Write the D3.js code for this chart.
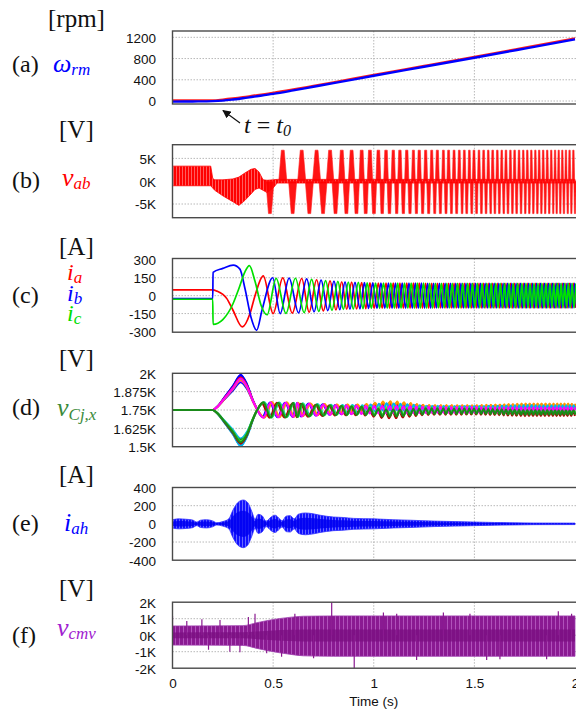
<!DOCTYPE html>
<html><head><meta charset="utf-8">
<script src="https://cdn.jsdelivr.net/npm/d3@7"></script>
<style>body{margin:0;background:#fff} svg{display:block}</style>
</head><body>
<svg id="chart" width="576" height="712"></svg>
<script>
// ================= DATA =================
const xTicks = [0, 0.5, 1, 1.5, 2];
const xTickLabels = ["0", "0.5", "1", "1.5", "2"];

// (a) rotor speed [rpm]
const speedT    = [0, 0.1, 0.2, 0.25, 0.3, 0.35, 0.4, 0.5, 0.6, 0.7, 0.8, 1.0, 1.25, 1.5, 1.75, 2.0];
const speedMeas = [-12, -8, -2, 8, 28, 52, 80, 135, 200, 268, 336, 476, 645, 815, 988, 1162];
const speedRef  = [0, 0, 0, 14, 34, 58, 86, 140, 203, 270, 338, 478, 647, 817, 990, 1164];
const speedTicks = [0, 400, 800, 1200];
const speedTickLabels = ["0", "400", "800", "1200"];

// (b) line voltage v_ab [V]
const vabBandT   = [0, 0.005, 0.19, 0.2, 0.21, 0.25, 0.3, 0.33, 0.36, 0.39, 0.41, 0.43, 0.45, 0.47, 0.5, 0.52, 2.0];
const vabBandTop = [3300, 3300, 3300, 600, 300, 300, 500, 900, 1800, 2600, 2800, 2000, 300, 200, 300, 400, 400];
const vabBandBot = [-800, -1000, -1000, -1500, -2000, -3200, -4500, -5300, -4200, -2800, -1800, -1500, -2000, -2500, -1500, -400, -400];
const vabPosT = [0.548, 0.642, 0.716, 0.783, 0.841, 0.890, 0.940, 0.981, 1.023, 1.061, 1.097, 1.130, 1.164, 1.197, 1.226, 1.258, 1.288, 1.316, 1.346, 1.372, 1.399, 1.425, 1.450, 1.475, 1.498, 1.523, 1.546, 1.569, 1.591, 1.614, 1.636, 1.657, 1.679, 1.700, 1.722, 1.743, 1.763, 1.783, 1.803, 1.822, 1.842, 1.862, 1.882, 1.901, 1.919, 1.937, 1.955, 1.973, 1.992];
const vabNegT = [0.484, 0.597, 0.680, 0.748, 0.810, 0.864, 0.914, 0.960, 1.001, 1.042, 1.078, 1.114, 1.147, 1.180, 1.212, 1.243, 1.273, 1.303, 1.331, 1.359, 1.386, 1.412, 1.439, 1.462, 1.487, 1.511, 1.535, 1.558, 1.581, 1.602, 1.624, 1.646, 1.667, 1.689, 1.710, 1.732, 1.753, 1.773, 1.793, 1.813, 1.833, 1.852, 1.872, 1.892, 1.909, 1.927, 1.945, 1.964, 1.982, 2.0];
const vabPosPeak = 6800;
const vabNegPeak = -7100;
const vabTicks = [-5000, 0, 5000];
const vabTickLabels = ["-5K", "0K", "5K"];

// (c) phase currents [A]
const iaStart = [[0, 48], [0.2, 48], [0.22, 38], [0.27, -25], [0.30, -120], [0.347, -262], [0.385, -150], [0.41, 0], [0.451, 165], [0.50, -150]];
const ibStart = [[0, -24], [0.2, -24], [0.2015, 195], [0.25, 228], [0.302, 256], [0.335, 222], [0.36, 60], [0.39, -180], [0.418, -290], [0.445, -120], [0.498, 150], [0.535, -150]];
const icStart = [[0, -30], [0.2, -30], [0.2015, -240], [0.25, -200], [0.30, -70], [0.33, 60], [0.36, 200], [0.382, 252], [0.41, 120], [0.44, -80], [0.47, -160], [0.515, 145]];
const curAmpT = [0.54, 0.65, 0.75, 0.85, 1.0, 1.5, 2.0];
const curAmp  = [150, 143, 128, 115, 106, 102, 102];
const curTicks = [-300, -150, 0, 150, 300];
const curTickLabels = ["-300", "-150", "0", "150", "300"];

// (d) capacitor voltages [V]
const capTransT = [0, 0.2, 0.22, 0.26, 0.30, 0.339, 0.37, 0.40, 0.42];
const capUpper  = [1750, 1750, 1768, 1832, 1898, 1965, 1910, 1810, 1755];
const capLower  = [1750, 1750, 1732, 1668, 1600, 1530, 1585, 1690, 1748];
const capEarlyPeakT = [0.451, 0.525, 0.600];
const capOscT   = [0.42, 0.45, 0.6, 0.7, 0.8, 1.0, 1.3, 1.6, 2.0];
const capOscAmp = [0, 52, 48, 40, 32, 25, 20, 17, 15];
const capSpreadT = [0.42, 0.8, 0.95, 1.05, 1.12, 1.25, 1.5, 1.65, 1.75, 2.0];
const capSpread  = [0, 5, 10, 35, 35, 14, 14, 22, 28, 28];
const capTicks = [1500, 1625, 1750, 1875, 2000];
const capTickLabels = ["1.5K", "1.625K", "1.75K", "1.875K", "2K"];

// (e) circulating current envelope [A]
const iahT   = [0, 0.03, 0.07, 0.1, 0.12, 0.14, 0.17, 0.2, 0.22, 0.25, 0.28, 0.3, 0.325, 0.352, 0.375, 0.395, 0.41, 0.425, 0.445, 0.465, 0.49, 0.51, 0.53, 0.545, 0.565, 0.585, 0.605, 0.625, 0.66, 0.7, 0.733, 0.8, 0.849, 0.9, 1.0, 1.1, 1.18, 1.3, 1.4, 1.495, 1.6, 1.7, 1.793, 2.0];
const iahAmp = [45, 55, 50, 42, 20, 40, 45, 32, 12, 25, 55, 150, 235, 262, 230, 130, 50, 105, 90, 30, 75, 95, 60, 35, 85, 90, 55, 105, 120, 110, 95, 75, 70, 60, 55, 45, 40, 30, 25, 20, 15, 12, 9, 8];
const iahTicks = [-400, -200, 0, 200, 400];
const iahTickLabels = ["-400", "-200", "0", "200", "400"];

// (f) common-mode voltage [V]
const cmvT   = [0, 0.35, 0.42, 0.5, 0.58, 0.65, 0.8, 2.0];
const cmvTop = [560, 580, 760, 950, 1080, 1150, 1170, 1170];
const cmvBot = [-600, -620, -800, -1000, -1150, -1250, -1280, -1280];
const cmvSpikeT = [0, 0.071, 0.146, 0.179, 0.236, 0.285, 0.335, 0.377, 0.41, 0.468, 0.542, 0.608, 0.701, 0.791, 0.903, 1.048, 1.114, 1.213, 1.346, 1.478, 1.561, 1.627, 1.859, 1.917, 1.983];
const cmvSpikeV = [1170, 860, 960, -880, 920, -1000, -1030, 1100, 1300, -1100, -1300, 1300, -1400, 2000, -2050, 1370, 1300, -1500, 1370, 1300, -1500, -1450, -1450, 1450, 1300];
const cmvTicks = [-2000, -1000, 0, 1000, 2000];
const cmvTickLabels = ["-2K", "-1K", "0K", "1K", "2K"];

// ================= DRAW =================
const svg = d3.select("#chart");
const SANS = "'Liberation Sans', Arial, sans-serif";
const SERIF = "'Liberation Serif', 'Times New Roman', serif";
const x = d3.scaleLinear().domain([0, 2]).range([172.5, 575]);
const X0 = 172.5, XR = 580;

const defs = svg.append("defs");
// texture patterns for dense switching waveforms
function stripes(id, base, stripe, w, sw, op) {
  const p = defs.append("pattern").attr("id", id).attr("patternUnits", "userSpaceOnUse").attr("width", w).attr("height", 8);
  p.append("rect").attr("width", w).attr("height", 8).attr("fill", base);
  p.append("rect").attr("x", w - sw).attr("width", sw).attr("height", 8).attr("fill", stripe).attr("opacity", op);
}
stripes("texB", "#ff0000", "#ffffff", 3, 0.8, 0.45);
stripes("texE", "#1010ff", "#7070ff", 3, 1, 0.9);
stripes("texF", "#8a1a92", "#b458c0", 4, 1, 0.9);

const panelDefs = [
  {id: "a", top: 31, bottom: 104, domain: [-56, 1319], ticks: speedTicks, labels: speedTickLabels},
  {id: "b", top: 144.7, bottom: 217.7, domain: [-8000, 8000], ticks: vabTicks, labels: vabTickLabels},
  {id: "c", top: 258.5, bottom: 332.2, domain: [-306, 311], ticks: curTicks, labels: curTickLabels},
  {id: "d", top: 373.3, bottom: 446.7, domain: [1500, 2000], ticks: capTicks, labels: capTickLabels},
  {id: "e", top: 487.5, bottom: 560.2, domain: [-400, 400], ticks: iahTicks, labels: iahTickLabels},
  {id: "f", top: 602.2, bottom: 668.2, domain: [-2000, 2000], ticks: cmvTicks, labels: cmvTickLabels}
];
const P = {};
panelDefs.forEach(pd => {
  const y = d3.scaleLinear().domain(pd.domain).range([pd.bottom, pd.top]);
  defs.append("clipPath").attr("id", "clip-" + pd.id)
    .append("rect").attr("x", X0).attr("y", pd.top).attr("width", XR - X0).attr("height", pd.bottom - pd.top);
  const g = svg.append("g");
  const grid = g.append("g").attr("stroke", "#b8b8b8").attr("stroke-width", 1).attr("stroke-dasharray", "1.5,1.5");
  xTicks.filter(t => t > 0 && t < 2).forEach(t => {
    grid.append("line").attr("x1", x(t)).attr("x2", x(t)).attr("y1", pd.top).attr("y2", pd.bottom);
  });
  pd.ticks.forEach(v => {
    const yy = y(v);
    if (yy > pd.top + 2 && yy < pd.bottom - 1) grid.append("line").attr("x1", X0).attr("x2", XR).attr("y1", yy).attr("y2", yy);
  });
  const yAxis = d3.axisLeft(y).tickValues(pd.ticks).tickFormat((d, i) => pd.labels[i]).tickSize(0).tickPadding(0);
  const ax = g.append("g").attr("transform", `translate(156,0)`).call(yAxis);
  ax.select(".domain").remove();
  ax.selectAll("text").attr("font-family", SANS).attr("font-size", "13.5px").attr("fill", "#111").attr("dy", "0.36em");
  const plot = g.append("g").attr("clip-path", `url(#clip-${pd.id})`);
  svg.append("rect").attr("x", X0).attr("y", pd.top).attr("width", XR + 10 - X0).attr("height", pd.bottom - pd.top)
    .attr("fill", "none").attr("stroke", "#4a4a4a").attr("stroke-width", 1.4);
  P[pd.id] = {y, plot};
});

const interp = (ts, vs) => d3.scaleLinear().domain(ts).range(vs).clamp(true);

// ---- (a) ----
{
  const {y, plot} = P.a;
  const ln = d3.line().x(d => x(d[0])).y(d => y(d[1])).curve(d3.curveMonotoneX);
  plot.append("path").attr("d", ln(speedT.map((t, i) => [t, speedRef[i]])))
    .attr("fill", "none").attr("stroke", "#ff2020").attr("stroke-width", 2.2).attr("transform", "translate(0,-0.8)");
  plot.append("path").attr("d", ln(speedT.map((t, i) => [t, speedMeas[i]])))
    .attr("fill", "none").attr("stroke", "#0000ff").attr("stroke-width", 2.4);
}

// ---- (b) ----
{
  const {y, plot} = P.b;
  const area = d3.area().x(d => x(d[0])).y0(d => y(d[2])).y1(d => y(d[1]));
  plot.append("path").attr("d", area(vabBandT.map((t, i) => [t, vabBandTop[i], vabBandBot[i]])))
    .attr("fill", "url(#texB)").attr("stroke", "#ff0000").attr("stroke-width", 0.8);
  const poly = d3.line().x(d => x(d[0])).y(d => y(d[1]));
  const drawPulses = (times, peak) => {
    times.forEach((T, k) => {
      const Pd = k < times.length - 1 ? times[k + 1] - T : T - times[k - 1];
      const hb = Math.min(0.32 * Pd, 0.02), ht = Math.min(0.17 * Pd, 0.007);
      plot.append("path").attr("d", poly([[T - hb, 0], [T - ht, peak], [T + ht, peak], [T + hb, 0]]) + "Z")
        .attr("fill", "#ff0000").attr("stroke", "#ff1a1a").attr("stroke-width", 0.6).attr("fill-opacity", 0.92);
    });
  };
  drawPulses(vabPosT, vabPosPeak);
  drawPulses(vabNegT, vabNegPeak);
}

// ---- (c) ----
{
  const {y, plot} = P.c;
  const amp = interp(curAmpT, curAmp);
  const build = (start, pk, tr) => {
    const pts = start.slice();
    const last = start[start.length - 1][0];
    const n = vabPosT.length;
    vabPosT.forEach((T, k) => {
      const Pd = k < n - 1 ? vabPosT[k + 1] - T : T - vabPosT[k - 1];
      const tp = T + pk * Pd, tt = T + tr * Pd;
      if (tp > last) pts.push([tp, amp(tp)]);
      if (tt > last) pts.push([tt, -amp(tt)]);
    });
    pts.sort((a, b) => a[0] - b[0]);
    return pts;
  };
  const ln = d3.line().x(d => x(d[0])).y(d => y(d[1])).curve(d3.curveMonotoneX);
  const traces = [
    {pts: build(iaStart, 0, 0.5), c: "#ff0000"},
    {pts: build(ibStart, 1 / 3, 5 / 6), c: "#0000ff"},
    {pts: build(icStart, 2 / 3, 1 / 6), c: "#00e000"}
  ];
  traces.forEach(tr => plot.append("path").attr("d", ln(tr.pts)).attr("fill", "none").attr("stroke", tr.c).attr("stroke-width", 1.7));
}

// ---- (d) ----
{
  const {y, plot} = P.d;
  const osc = interp(capOscT, capOscAmp);
  const spread = interp(capSpreadT, capSpread);
  const area = d3.area().x(d => x(d[0])).y0(d => y(d[1])).y1(d => y(d[2])).curve(d3.curveMonotoneX);
  const upBand = capTransT.map((t, i) => { const dv = capUpper[i] - 1750; return [t, capUpper[i] - 0.13 * dv, capUpper[i] + 0.13 * dv]; });
  const loBand = capTransT.map((t, i) => { const dv = capLower[i] - 1750; return [t, capLower[i] - 0.13 * dv, capLower[i] + 0.13 * dv]; });
  plot.append("path").attr("d", area(upBand)).attr("fill", "#ff00ff").attr("stroke", "#0000ff").attr("stroke-width", 1.2);
  plot.append("path").attr("d", area(loBand)).attr("fill", "#1a8a1a").attr("stroke", "#00b4f0").attr("stroke-width", 1.2);
  const cycles = capEarlyPeakT.concat(vabPosT.filter(t => t > 0.64));
  const traces = [
    {c: "#0000ff", grp: 1, b: 0.9, off: 0.4, ph: -0.05},
    {c: "#ff0000", grp: 1, b: 0.3, off: 0.8, ph: 0.05},
    {c: "#ff9900", grp: 1, b: -0.4, off: 1.0, ph: 0.1},
    {c: "#00b4f0", grp: -1, b: 0.9, off: 0.6, ph: 0.08},
    {c: "#b00000", grp: -1, b: 0.4, off: -0.9, ph: -0.08},
    {c: "#33ff33", grp: -1, b: -0.3, off: -0.3, ph: 0.05},
    {c: "#ff00ff", grp: 1, b: 0, off: 0.1, ph: 0},
    {c: "#1a8a1a", grp: -1, b: 0, off: -0.6, ph: 0}
  ];
  const ln = d3.line().x(d => x(d[0])).y(d => y(d[1])).curve(d3.curveMonotoneX);
  traces.forEach(tr => {
    const src = tr.grp > 0 ? capUpper : capLower;
    const pts = capTransT.map((t, i) => [t, src[i] + tr.b * 0.1 * (src[i] - 1750)]);
    const n = cycles.length;
    cycles.forEach((T, k) => {
      const Pd = k < n - 1 ? cycles[k + 1] - T : T - cycles[k - 1];
      const t1 = T + tr.ph * Pd, t2 = T + (tr.ph + 0.5) * Pd;
      [[t1, 1], [t2, -1]].forEach(([tt, s]) => {
        if (tt > 0.425) pts.push([tt, 1750 + tr.off * spread(tt) + (-tr.grp) * s * osc(tt)]);
      });
    });
    pts.sort((a, b) => a[0] - b[0]);
    plot.append("path").attr("d", ln(pts)).attr("fill", "none").attr("stroke", tr.c).attr("stroke-width", 2.1);
  });
}

// ---- (e) ----
{
  const {y, plot} = P.e;
  const area = d3.area().x(d => x(d[0])).y0(d => y(-d[1])).y1(d => y(d[1])).curve(d3.curveMonotoneX);
  plot.append("path").attr("d", area(iahT.map((t, i) => [t, iahAmp[i]]))).attr("fill", "url(#texE)").attr("stroke", "#3030ff").attr("stroke-width", 0.8);
  plot.append("path").attr("d", area(iahT.map((t, i) => [t, iahAmp[i] * 0.55]))).attr("fill", "#0000f0").attr("fill-opacity", 0.8);
}

// ---- (f) ----
{
  const {y, plot} = P.f;
  const area = d3.area().x(d => x(d[0])).y0(d => y(d[2])).y1(d => y(d[1])).curve(d3.curveMonotoneX);
  plot.append("path").attr("d", area(cmvT.map((t, i) => [t, cmvTop[i], cmvBot[i]]))).attr("fill", "url(#texF)").attr("stroke", "#a040b0").attr("stroke-width", 0.8);
  plot.append("path").attr("d", area(cmvT.map((t, i) => [t, cmvTop[i] * 0.3, cmvBot[i] * 0.3]))).attr("fill", "#7a0f80").attr("fill-opacity", 0.75);
  plot.selectAll(".sp").data(cmvSpikeT).enter().append("line")
    .attr("x1", d => x(d)).attr("x2", d => x(d))
    .attr("y1", y(0)).attr("y2", (d, i) => y(cmvSpikeV[i]))
    .attr("stroke", "#8a1a90").attr("stroke-width", 1.2);
}

// ---- x axis ----
{
  const xAxis = d3.axisBottom(x).tickValues(xTicks).tickFormat((d, i) => xTickLabels[i]).tickSize(0).tickPadding(0);
  const ax = svg.append("g").attr("transform", "translate(0,678)").call(xAxis);
  ax.select(".domain").remove();
  ax.selectAll("text").attr("font-family", SANS).attr("font-size", "13.5px").attr("fill", "#111").attr("dy", "0.75em");
  svg.append("text").attr("x", x(1)).attr("y", 706).attr("text-anchor", "middle")
    .attr("font-family", SANS).attr("font-size", "13.5px").attr("fill", "#111").text("Time (s)");
}

// ---- left labels ----
const units = [["[rpm]", 48, 27], ["[V]", 59, 138], ["[A]", 59, 255], ["[V]", 59, 367], ["[A]", 59, 483], ["[V]", 59, 597]];
units.forEach(([s, xx, yy]) => svg.append("text").attr("x", xx).attr("y", yy).attr("font-family", SERIF).attr("font-size", "25px").attr("fill", "#111").text(s));
const tags = [["(a)", 72], ["(b)", 188], ["(c)", 303], ["(d)", 415], ["(e)", 531], ["(f)", 643]];
tags.forEach(([s, yy]) => svg.append("text").attr("x", 12).attr("y", yy).attr("font-family", SERIF).attr("font-size", "24px").attr("fill", "#111").text(s));

function varLabel(main, sub, xx, yy, color, subDy, size) {
  const t = svg.append("text").attr("x", xx).attr("y", yy).attr("font-family", SERIF).attr("font-style", "italic").attr("fill", color);
  t.append("tspan").attr("font-size", (size || 26) + "px").text(main);
  t.append("tspan").attr("font-size", "17px").attr("dy", subDy).text(sub);
}
varLabel("ω", "rm", 53, 72, "#0000ff", 3);
varLabel("v", "ab", 62, 186, "#ff0000", 3);
varLabel("i", "a", 67, 280, "#ff0000", 3, 24);
varLabel("i", "b", 67, 301, "#0000ff", 3, 24);
varLabel("i", "c", 67, 321, "#00dd00", 3, 24);
varLabel("v", "Cj,x", 57, 416, "#3a8a3a", 4);
varLabel("i", "ah", 64, 531, "#0000ff", 3);
varLabel("v", "cmv", 57, 636, "#a020d0", 3);

// ---- t = t0 annotation ----
{
  const t = svg.append("text").attr("x", 244).attr("y", 133).attr("font-family", SERIF).attr("font-size", "24px").attr("fill", "#111");
  t.append("tspan").attr("font-style", "italic").text("t");
  t.append("tspan").text(" = ");
  t.append("tspan").attr("font-style", "italic").text("t");
  t.append("tspan").attr("font-style", "italic").attr("font-size", "16px").attr("dy", 3).text("0");
  defs.append("marker").attr("id", "arr").attr("viewBox", "0 0 10 10").attr("refX", 9).attr("refY", 5)
    .attr("markerWidth", 7).attr("markerHeight", 7).attr("orient", "auto")
    .append("path").attr("d", "M0,0 L10,5 L0,10 Z").attr("fill", "#111");
  svg.append("line").attr("x1", 240).attr("y1", 123).attr("x2", 223).attr("y2", 110.5)
    .attr("stroke", "#111").attr("stroke-width", 1.2).attr("marker-end", "url(#arr)");
}
</script>
</body></html>
